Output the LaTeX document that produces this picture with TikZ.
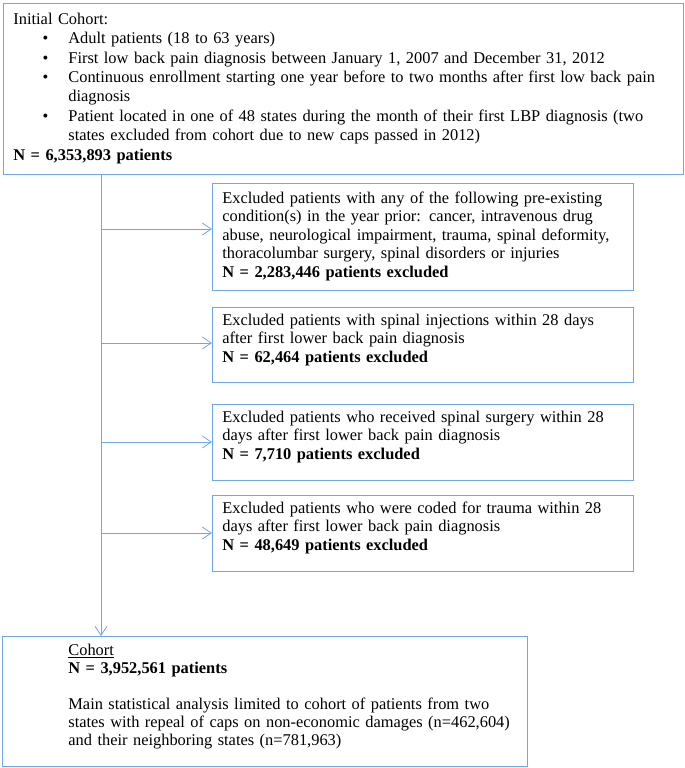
\documentclass[tikz,border=0pt]{standalone}
\usepackage{fontspec}
\setmainfont{Liberation Serif}
\usepackage{enumitem}
\usetikzlibrary{arrows.meta}
\definecolor{flowblue}{RGB}{112,168,230}
\begin{document}
\begin{tikzpicture}[x=1pt, y=1pt,
    box/.style={draw=flowblue, line width=0.8pt, anchor=north west, align=left,
      inner xsep=10pt, inner ysep=0pt, font=\fontsize{16.4}{18.5}\selectfont},
    flow/.style={draw=flowblue, line width=0.8pt, -{Straight Barb[length=9pt,width=12pt]}}]
  \useasboundingbox (0,0) rectangle (685,-768);
  % coordinates for the spine and its branches
  \coordinate (spine)  at (101,0);
  \coordinate (b1)     at (101,-229);
  \coordinate (b2)     at (101,-343);
  \coordinate (b3)     at (101,-442);
  \coordinate (b4)     at (101,-533);
  % boxes
  \node[box, text width=660pt, text height=21pt, text depth=150pt,
    font=\fontsize{16.4}{19.4}\selectfont] (initial) at (3,-3) {%
    Initial Cohort:
    \begin{itemize}[nosep, leftmargin=55pt, labelsep=20pt]
      \item Adult patients (18 to 63 years)
      \item First low back pain diagnosis between January 1, 2007 and December 31, 2012
      \item Continuous enrollment starting one year before to two months after first low back pain\\diagnosis
      \item Patient located in one of 48 states during the month of their first LBP diagnosis (two\\states excluded from cohort due to new caps passed in 2012)
    \end{itemize}
    \textbf{N = 6,353,893 patients}};
  \node[box, text width=401pt, text height=20pt, text depth=87pt] (preexisting) at (212,-183) {%
    Excluded patients with any of the following pre-existing\\
    condition(s) in the year prior: cancer, intravenous drug\\
    abuse, neurological impairment, trauma, spinal deformity,\\
    thoracolumbar surgery, spinal disorders or injuries\\
    \textbf{N = 2,283,446 patients excluded}};
  \node[box, text width=401pt, text height=18pt, text depth=57pt] (injections) at (212,-307) {%
    Excluded patients with spinal injections within 28 days\\
    after first lower back pain diagnosis\\
    \textbf{N = 62,464 patients excluded}};
  \node[box, text width=401pt, text height=18pt, text depth=58pt] (surgery) at (212,-404) {%
    Excluded patients who received spinal surgery within 28\\
    days after first lower back pain diagnosis\\
    \textbf{N = 7,710 patients excluded}};
  \node[box, text width=401pt, text height=18pt, text depth=58pt] (trauma) at (212,-495) {%
    Excluded patients who were coded for trauma within 28\\
    days after first lower back pain diagnosis\\
    \textbf{N = 48,649 patients excluded}};
  \node[box, inner xsep=4pt, text width=517pt, text height=19pt, text depth=111pt,
    font=\fontsize{16.4}{18}\selectfont] (cohort) at (2,-636) {%
    \leftskip=62pt
    \underline{Cohort}\\
    \textbf{N = 3,952,561 patients}\\[18pt]
    Main statistical analysis limited to cohort of patients from two\\
    states with repeal of caps on non-economic damages (n=462,604)\\
    and their neighboring states (n=781,963)\par};
  % connectors
  \draw[flow] (spine |- initial.south) -- (spine |- cohort.north);
  \draw[flow] (b1) -- (b1 -| preexisting.west);
  \draw[flow] (b2) -- (b2 -| injections.west);
  \draw[flow] (b3) -- (b3 -| surgery.west);
  \draw[flow] (b4) -- (b4 -| trauma.west);
\end{tikzpicture}
\end{document}
